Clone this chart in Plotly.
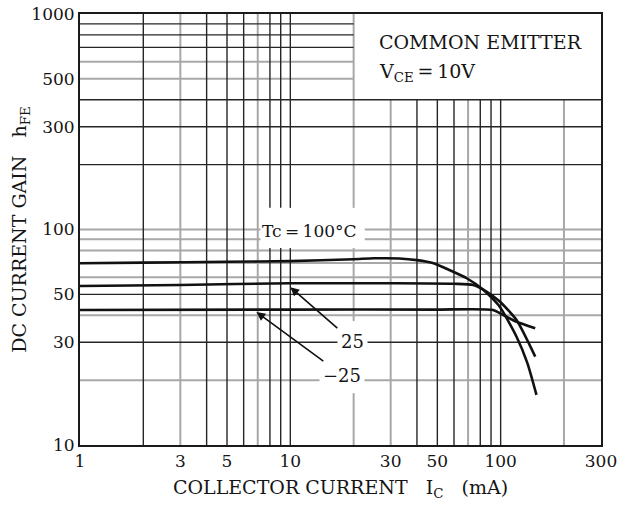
import numpy as np
import plotly.graph_objects as go

# ---------------- data ----------------
ic_100 = [1, 2, 5, 10, 20, 25, 33, 40, 48, 57, 69, 83, 99, 119, 134, 148]
hfe_100 = [69.7, 70.2, 70.8, 71.3, 72.8, 73.5, 73.4, 72.1, 69.7, 64.9, 59.4, 52.4, 43.8, 31.8, 24.0, 17.1]

ic_25 = [1, 3, 10, 30, 60, 74, 86, 99, 119, 146]
hfe_25 = [54.7, 55.3, 56.3, 56.3, 56.0, 55.3, 51.4, 46.3, 38.0, 25.7]

ic_m25 = [1, 10, 50, 92, 103, 119, 146]
hfe_m25 = [42.3, 42.5, 42.5, 42.3, 40.1, 37.3, 34.8]

x_ticks = [1, 3, 5, 10, 30, 50, 100, 300]
y_ticks = [10, 30, 50, 100, 300, 500, 1000]

# grid lines (value, dark?)
v_grid = [2, 3, 4, 5, 6, 7, 8, 9, 10, 20, 30, 40, 50, 60, 70, 80, 90, 100, 200]
v_dark = [1, 0, 1, 1, 1, 0, 1, 1, 1, 0, 0, 1, 1, 1, 0, 1, 1, 1, 0]
h_grid = [20, 30, 40, 50, 60, 70, 80, 90, 100, 200, 300, 400, 500, 600, 700, 800, 900]
h_dark = [0, 1, 0, 1, 0, 0, 0, 0, 0, 1, 1, 1, 0, 0, 1, 1, 1]

X_MIN, X_MAX = 1, 300
Y_MIN, Y_MAX = 10, 1000
BOX_X, BOX_Y = 20, 400          # legend box lower-left corner (data units)
TC_GAP_X = (7.5, 22.6)          # white area around "Tc=100°C"
TC_GAP_Y = (82, 126)
LBL_GAP_Y = (17.4, 37.6)        # gap of the 20 mA line near the labels

FONT = "DejaVu Serif"
TXT = "#151515"


def segments(lo, hi, gaps):
    segs = []
    cur = lo
    for g0, g1 in sorted(gaps):
        if g0 > cur:
            segs.append((cur, min(g0, hi)))
        cur = max(cur, g1)
    if cur < hi:
        segs.append((cur, hi))
    return segs


fig = go.Figure()

grid_xy = {True: ([], []), False: ([], [])}
for xv, dk in zip(v_grid, v_dark):
    gaps = []
    if xv > BOX_X:
        gaps.append((BOX_Y, Y_MAX))
    if xv in (8, 9, 10, 20):
        gaps.append(TC_GAP_Y)
    if xv == 20:
        gaps.append(LBL_GAP_Y)
    for a, b in segments(Y_MIN, Y_MAX, gaps):
        grid_xy[bool(dk)][0].extend([xv, xv, None])
        grid_xy[bool(dk)][1].extend([a, b, None])
for yv, dk in zip(h_grid, h_dark):
    gaps = []
    if yv > BOX_Y:
        gaps.append((BOX_X, X_MAX))
    if yv in (90, 100):
        gaps.append(TC_GAP_X)
    for a, b in segments(X_MIN, X_MAX, gaps):
        grid_xy[bool(dk)][0].extend([a, b, None])
        grid_xy[bool(dk)][1].extend([yv, yv, None])

fig.add_trace(go.Scatter(x=grid_xy[False][0], y=grid_xy[False][1], mode="lines",
                         line=dict(color="#a8a8a8", width=2), hoverinfo="skip"))
fig.add_trace(go.Scatter(x=grid_xy[True][0], y=grid_xy[True][1], mode="lines",
                         line=dict(color="#262626", width=1.4), hoverinfo="skip"))

for xs, ys in [(ic_100, hfe_100), (ic_25, hfe_25), (ic_m25, hfe_m25)]:
    fig.add_trace(go.Scatter(x=xs, y=ys, mode="lines",
                             line=dict(color="#111", width=2.6, shape="spline", smoothing=0.6),
                             hoverinfo="skip"))

L = np.log10
ann = []
ann.append(dict(x=L(25.8), y=L(741), text="COMMON EMITTER", xanchor="left", yanchor="middle",
                showarrow=False, font=dict(family=FONT, size=19, color=TXT)))
ann.append(dict(x=L(25.8), y=L(535), text="V<sub>CE</sub>\u2009=\u200910V", xanchor="left", yanchor="middle",
                showarrow=False, font=dict(family=FONT, size=19, color=TXT)))
ann.append(dict(x=L(12.4), y=L(98.5), text="Tc\u2009=\u2009100°C", showarrow=False, bgcolor="white",
                font=dict(family=FONT, size=17, color=TXT)))
ann.append(dict(x=L(10.0), y=L(54.0), text="25", showarrow=True, arrowhead=2, arrowsize=1.1, arrowwidth=1.6,
                arrowcolor="#111", ax=62, ay=54, bgcolor="white", borderpad=3,
                font=dict(family=FONT, size=18, color=TXT)))
ann.append(dict(x=L(6.9), y=L(41.4), text="\u221225", showarrow=True, arrowhead=2, arrowsize=1.1, arrowwidth=1.6,
                arrowcolor="#111", ax=86, ay=63, bgcolor="white", borderpad=3,
                font=dict(family=FONT, size=18, color=TXT)))

fig.update_layout(
    width=629, height=505,
    margin=dict(l=80, r=28, t=14, b=60, autoexpand=False),
    paper_bgcolor="white", plot_bgcolor="white",
    showlegend=False,
    annotations=ann,
    font=dict(family=FONT, size=17, color=TXT),
)
fig.update_xaxes(type="log", range=[L(X_MIN), L(X_MAX)], tickvals=x_ticks, automargin=False,
                 ticktext=[str(v) for v in x_ticks], showgrid=False, zeroline=False,
                 showline=True, linecolor="#1a1a1a", linewidth=2, mirror=True, ticks="",
                 ticklabeloverflow="allow",
                 tickfont=dict(family=FONT, size=17, color=TXT),
                 title=dict(text="COLLECTOR CURRENT\u00a0\u00a0 I<sub>C</sub>\u00a0\u00a0 (mA)",
                            font=dict(family=FONT, size=19, color=TXT), standoff=10))
fig.update_yaxes(type="log", range=[L(Y_MIN), L(Y_MAX)], tickvals=y_ticks, automargin=False,
                 ticktext=[str(v) for v in y_ticks], showgrid=False, zeroline=False,
                 showline=True, linecolor="#1a1a1a", linewidth=2, mirror=True, ticks="",
                 ticklabeloverflow="allow",
                 tickfont=dict(family=FONT, size=17, color=TXT),
                 title=dict(text="DC CURRENT GAIN\u00a0\u00a0 h<sub>FE</sub>",
                            font=dict(family=FONT, size=19, color=TXT), standoff=0))

fig.write_html("out.html", config={"displayModeBar": False},
               post_script="document.body.style.margin='0';")
